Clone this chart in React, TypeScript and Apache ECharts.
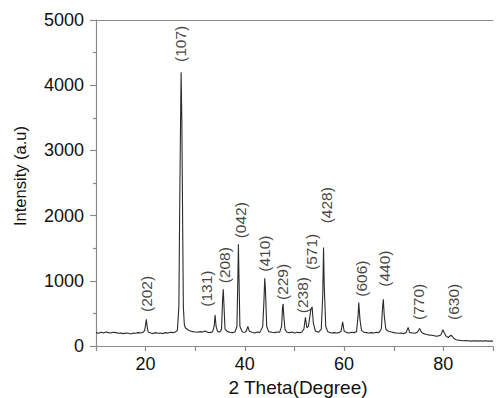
import React, { useEffect, useRef } from "react";
import * as echarts from "echarts";

// 2θ (degree), intensity (a.u.)
const xrdPattern: [number, number][] = [
  [10.0, 205], [10.5, 195], [11, 210], [11.5, 200], [12, 215], [12.5, 205], [13, 200], [13.5, 210],
  [14, 205], [14.5, 195], [15, 200], [15.5, 190], [16, 200], [16.5, 195], [17, 185], [17.5, 200],
  [18, 195], [18.5, 205], [19, 200], [19.5, 210], [19.8, 240], [20.0, 330], [20.15, 410], [20.3, 300],
  [20.5, 215], [21, 200], [21.5, 190], [22, 205], [22.5, 195], [23, 200], [23.5, 190], [24, 205],
  [24.5, 200], [25, 210], [25.5, 205], [26, 215], [26.4, 240], [26.7, 600], [26.85, 2000], [27.0, 3150],
  [27.15, 4200], [27.3, 3450], [27.45, 2000], [27.6, 600], [27.8, 330], [28, 280], [28.5, 250], [29, 230],
  [29.5, 220], [30, 215], [30.5, 210], [31, 220], [31.5, 215], [32, 230], [32.5, 210], [33, 205],
  [33.5, 220], [33.8, 300], [34.0, 475], [34.2, 300], [34.5, 220], [35, 215], [35.3, 260], [35.5, 700],
  [35.65, 870], [35.8, 600], [36.0, 260], [36.5, 220], [37, 210], [37.5, 205], [38, 215], [38.4, 300],
  [38.6, 1100], [38.7, 1560], [38.8, 1100], [39.0, 300], [39.5, 215], [40, 210], [40.3, 230], [40.6, 300],
  [40.9, 225], [41.5, 210], [42, 200], [42.5, 215], [43, 205], [43.6, 300], [43.85, 700], [44.0, 1040],
  [44.15, 850], [44.4, 300], [44.8, 220], [45.5, 210], [46, 205], [46.5, 215], [47, 210], [47.4, 300],
  [47.6, 600], [47.7, 645], [47.85, 450], [48.1, 250], [48.5, 210], [49, 205], [49.5, 215], [50, 200],
  [50.5, 210], [51, 205], [51.5, 215], [51.9, 260], [52.2, 440], [52.5, 280], [52.8, 300], [53.3, 560],
  [53.55, 600], [53.8, 350], [54.2, 230], [54.8, 210], [55.4, 260], [55.7, 800], [55.85, 1510], [56.0, 900],
  [56.3, 300], [56.7, 220], [57, 210], [57.5, 200], [58, 205], [58.5, 200], [59, 205], [59.4, 230],
  [59.7, 370], [60.0, 230], [60.5, 205], [61, 200], [61.5, 210], [62, 205], [62.5, 220], [62.8, 450],
  [62.95, 665], [63.2, 400], [63.5, 240], [64, 210], [64.5, 205], [65, 200], [65.5, 205], [66, 200],
  [66.5, 210], [67, 205], [67.5, 260], [67.75, 600], [67.9, 715], [68.1, 450], [68.4, 260], [68.8, 230],
  [69.5, 215], [70, 205], [70.5, 200], [71, 195], [71.5, 200], [72, 190], [72.5, 205], [72.9, 285],
  [73.2, 205], [73.8, 200], [74.3, 195], [74.8, 215], [75.2, 270], [75.6, 210], [76, 190], [76.5, 180],
  [77, 170], [77.5, 165], [78, 160], [78.5, 150], [79, 155], [79.5, 170], [79.9, 250], [80.2, 200],
  [80.6, 145], [81, 130], [81.5, 165], [81.8, 150], [82.2, 110], [82.6, 95], [83, 90], [83.5, 85],
  [84, 80], [84.5, 85], [85, 80], [85.5, 75], [86, 80], [86.5, 78], [87, 75], [87.5, 80], [88, 75],
  [88.5, 80], [89, 75], [90, 75],
];

// Miller indices and where their labels sit (2θ, intensity at the label's foot)
const peakNames = ["(202)", "(107)", "(131)", "(208)", "(042)", "(410)", "(229)", "(238)", "(571)", "(428)", "(606)", "(440)", "(770)", "(630)"];
const peakLabelTheta = [20.14, 27.1, 32.24, 35.85, 39.13, 43.92, 47.66, 51.59, 53.45, 56.4, 63.6, 68.21, 74.96, 81.99];
const peakLabelBase = [521, 4356, 603, 962, 1652, 1140, 705, 502, 1166, 1882, 756, 910, 399, 399];

const yTicks = [0, 1000, 2000, 3000, 4000, 5000];
const xTickLabels = [20, 40, 60, 80];

const FONT = "'Liberation Sans', Arial, Helvetica, sans-serif";
const TEXT = "#111111";
const AXIS = "#8a8a8a";

export default function App() {
  const ref = useRef<HTMLDivElement>(null);
  useEffect(() => {
    if (!ref.current) return;
    const chart = echarts.init(ref.current, null, { renderer: "svg" });
    chart.setOption({
      animation: false,
      backgroundColor: "#ffffff",
      grid: { left: 96, top: 20, width: 406, height: 326 },
      xAxis: [
        {
          type: "value",
          min: 10,
          max: 90,
          interval: 10,
          axisLine: { show: true, onZero: false, lineStyle: { color: AXIS, width: 1.2 } },
          axisTick: { show: true, length: 5, lineStyle: { color: AXIS, width: 1.2 } },
          splitLine: { show: false },
          axisLabel: {
            margin: 9,
            fontSize: 18,
            fontFamily: FONT,
            color: TEXT,
            formatter: (v: number) => (xTickLabels.includes(v) ? String(v) : ""),
          },
        },
        {
          type: "value",
          position: "top",
          min: 10,
          max: 90,
          axisLine: { show: true, onZero: false, lineStyle: { color: AXIS, width: 1.2 } },
          axisTick: { show: false },
          axisLabel: { show: false },
          splitLine: { show: false },
        },
      ],
      yAxis: {
        type: "value",
        min: yTicks[0],
        max: yTicks[yTicks.length - 1],
        interval: 1000,
        axisLine: { show: true, lineStyle: { color: AXIS, width: 1.2 } },
        axisTick: { show: true, length: 6, lineStyle: { color: AXIS, width: 1.2 } },
        minorTick: { show: true, splitNumber: 2, length: 3, lineStyle: { color: AXIS, width: 1.2 } },
        splitLine: { show: false },
        minorSplitLine: { show: false },
        axisLabel: {
          margin: 12,
          fontSize: 18,
          fontFamily: FONT,
          color: TEXT,
          formatter: (v: number) => (yTicks.includes(v) ? String(v) : ""),
        },
      },
      graphic: [
        {
          type: "text",
          x: 20,
          y: 176,
          rotation: Math.PI / 2,
          style: {
            text: "Intensity (a.u)",
            fontSize: 16.5,
            fontFamily: FONT,
            fill: TEXT,
            align: "center",
            verticalAlign: "middle",
          },
        },
        {
          type: "text",
          x: 298,
          y: 387,
          style: {
            text: "2 Theta(Degree)",
            fontSize: 19,
            fontFamily: FONT,
            fill: TEXT,
            align: "center",
            verticalAlign: "middle",
          },
        },
      ],
      series: [
        {
          type: "line",
          data: xrdPattern,
          showSymbol: false,
          symbol: "none",
          lineStyle: { color: "#2b2b2b", width: 1.1 },
          z: 3,
        },
        {
          type: "scatter",
          symbolSize: 0,
          silent: true,
          data: peakNames.map((n, i) => ({ name: n, value: [peakLabelTheta[i], peakLabelBase[i]] })),
          label: {
            show: true,
            position: [0, 0],
            rotate: 90,
            align: "left",
            verticalAlign: "middle",
            fontSize: 15.5,
            fontFamily: FONT,
            color: TEXT,
            formatter: (p: any) => p.name,
          },
          z: 4,
        },
      ],
    });
    return () => chart.dispose();
  }, []);
  return <div ref={ref} style={{ width: 496, height: 398, position: "absolute", left: 0, top: 0, overflow: "hidden" }} />;
}
